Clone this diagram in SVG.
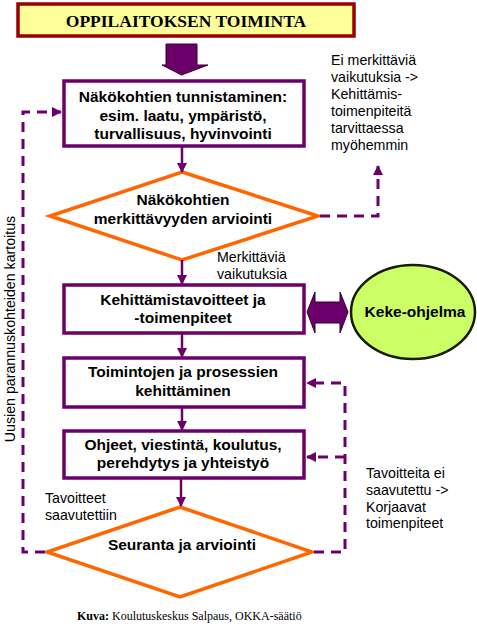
<svg xmlns="http://www.w3.org/2000/svg" width="477" height="634" viewBox="0 0 477 634">
<defs>
<style>
.box{fill:#fff;stroke:#6b006b;stroke-width:3.5}
.dia{fill:#fff;stroke:#ff6600;stroke-width:3.5}
.t{font-family:"Liberation Sans",Arial,sans-serif;font-size:15.5px;font-weight:bold;fill:#000;text-anchor:middle}
.s{font-family:"Liberation Sans",Arial,sans-serif;font-size:14.2px;fill:#000}
.ln{fill:none;stroke:#6b006b;stroke-width:2.5}
.dash{fill:none;stroke:#6b006b;stroke-width:3;stroke-dasharray:10,7}
</style>
<marker id="ah" viewBox="0 0 10 10" refX="9" refY="5" markerWidth="10" markerHeight="10" markerUnits="userSpaceOnUse" orient="auto">
<path d="M0,0 L10,5 L0,10 Z" fill="#6b006b"/>
</marker>
</defs>
<rect width="477" height="634" fill="#fff"/>

<g id="title">
<rect x="18" y="4" width="336" height="32" fill="#ffff99" stroke="#990000" stroke-width="3.5"/>
<text x="186" y="26.5" font-family="'Liberation Serif','Times New Roman',serif" font-size="17.5" font-weight="bold" text-anchor="middle">OPPILAITOKSEN TOIMINTA</text>
</g>

<g id="bigarrow">
<path d="M166,44 H197 V65 H208 L181.5,75 L162,65 H166 Z" fill="#6b006b" stroke="#330033" stroke-width="1"/>
</g>

<g id="n1">
<rect class="box" x="64" y="81" width="240" height="65"/>
<text class="t" x="183" y="102">Näkökohtien tunnistaminen:</text>
<text class="t" x="183" y="121">esim. laatu, ympäristö,</text>
<text class="t" x="183" y="139">turvallisuus, hyvinvointi</text>
</g>

<g id="d1">
<polygon class="dia" points="182,172 318,216 182,260 50,216"/>
<text class="t" x="183" y="205">Näkökohtien</text>
<text class="t" x="183" y="224">merkittävyyden arviointi</text>
</g>

<g id="n2">
<rect class="box" x="64" y="285" width="240" height="48"/>
<text class="t" x="183" y="305">Kehittämistavoitteet ja</text>
<text class="t" x="183" y="323">-toimenpiteet</text>
</g>

<g id="n3">
<rect class="box" x="64" y="358" width="240" height="49"/>
<text class="t" x="183" y="377">Toimintojen ja prosessien</text>
<text class="t" x="183" y="396">kehittäminen</text>
</g>

<g id="n4">
<rect class="box" x="64" y="431" width="240" height="47"/>
<text class="t" x="183" y="450">Ohjeet, viestintä, koulutus,</text>
<text class="t" x="183" y="468">perehdytys ja yhteistyö</text>
</g>

<g id="d2">
<polygon class="dia" points="180,507 312,552 180,597 47,552"/>
<text class="t" x="182" y="550">Seuranta ja arviointi</text>
</g>

<g id="keke">
<ellipse cx="413" cy="312" rx="62" ry="47" fill="#ccff66" stroke="#1a1a00" stroke-width="2.5"/>
<text class="t" x="415" y="317">Keke-ohjelma</text>
</g>

<g id="dblarrow">
<path d="M307,312 L315,292 V302 H340 V292 L348,312 L340,333 V323 H315 V333 Z" fill="#6b006b" stroke="#330033" stroke-width="1"/>
</g>

<g id="connectors">
<line class="ln" x1="182" y1="146" x2="182" y2="172" marker-end="url(#ah)"/>
<line class="ln" x1="182" y1="260" x2="182" y2="284" marker-end="url(#ah)"/>
<line class="ln" x1="182" y1="333" x2="182" y2="357" marker-end="url(#ah)"/>
<line class="ln" x1="182" y1="407" x2="182" y2="430" marker-end="url(#ah)"/>
<line class="ln" x1="181" y1="478" x2="181" y2="506" marker-end="url(#ah)"/>
<path class="dash" d="M320,216 H378 V166" marker-end="url(#ah)"/>
<path class="dash" d="M45,552 H23 V112 H61" marker-end="url(#ah)"/>
<path class="dash" d="M314,552 H345 V383 H307" marker-end="url(#ah)"/>
<path class="dash" d="M345,457 H307" marker-end="url(#ah)"/>
</g>

<g id="labels">
<text class="s" x="331" y="65">Ei merkittäviä</text>
<text class="s" x="331" y="82">vaikutuksia -&gt;</text>
<text class="s" x="331" y="99">Kehittämis-</text>
<text class="s" x="331" y="116">toimenpiteitä</text>
<text class="s" x="331" y="133">tarvittaessa</text>
<text class="s" x="331" y="150">myöhemmin</text>
<text class="s" x="217" y="262">Merkittäviä</text>
<text class="s" x="217" y="279">vaikutuksia</text>
<text class="s" x="45" y="503">Tavoitteet</text>
<text class="s" x="45" y="520">saavutettiin</text>
<text class="s" x="366" y="478">Tavoitteita ei</text>
<text class="s" x="366" y="495">saavutettu -&gt;</text>
<text class="s" x="366" y="512">Korjaavat</text>
<text class="s" x="366" y="528">toimenpiteet</text>
<text class="s" x="15" y="329" font-size="13.5" text-anchor="middle" transform="rotate(-90 15 329)">Uusien parannuskohteiden kartoitus</text>
<text x="77" y="620" font-family="'Liberation Serif','Times New Roman',serif" font-size="12"><tspan font-weight="bold">Kuva:</tspan> Koulutuskeskus Salpaus, OKKA-säätiö</text>
</g>
</svg>
